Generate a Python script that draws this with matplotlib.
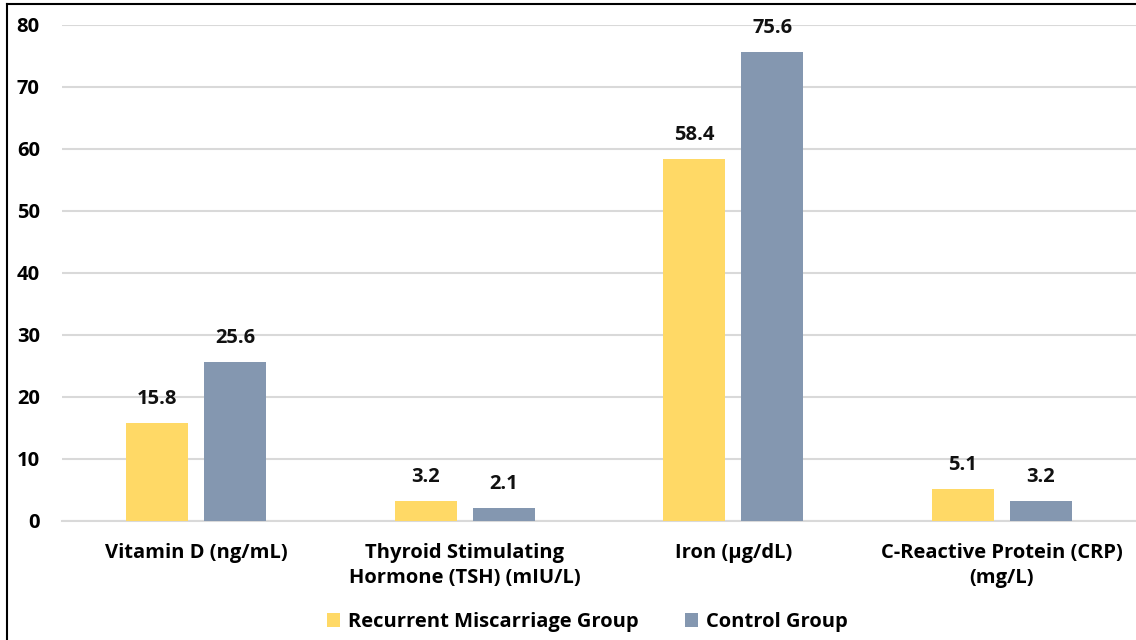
import numpy as np
import matplotlib.pyplot as plt
from matplotlib.lines import Line2D

# Data
categories = ['Vitamin D (ng/mL)', 'Thyroid Stimulating\nHormone (TSH) (mIU/L)',
              'Iron (\u00b5g/dL)', 'C-Reactive Protein (CRP)\n(mg/L)']
recurrent = [15.8, 3.2, 58.4, 5.1]
control = [25.6, 2.1, 75.6, 3.2]
series_names = ['Recurrent Miscarriage Group', 'Control Group']

plt.rcParams['font.family'] = ['Open Sans', 'DejaVu Sans']
plt.rcParams['font.weight'] = 'bold'
fs = 14.5

fig = plt.figure(figsize=(11.36, 6.4), dpi=100)
ax = fig.add_axes([62/1136, 119/640, 1 - 62/1136, (521 - 25)/640])

x_pos = np.arange(len(categories))
width = 0.23
off = 0.145

rects1 = ax.bar(x_pos - off, recurrent, width, color='#FFD966', label=series_names[0], zorder=3)
rects2 = ax.bar(x_pos + off, control, width, color='#8497B0', label=series_names[1], zorder=3)

for rects, vals in [(rects1, recurrent), (rects2, control)]:
    for r, v in zip(rects, vals):
        ax.annotate(f'{v:.1f}', (r.get_x() + r.get_width()/2, v), xytext=(0, 10),
                    textcoords='offset points', ha='center', va='bottom',
                    fontsize=fs, fontweight='bold', color='#111111')

ax.set_xlim(-0.5, 3.5)
ax.set_ylim(0, 80)
ax.set_yticks(np.arange(0, 81, 10))
ax.set_xticks(x_pos)
ax.set_xticklabels(categories, fontsize=fs, fontweight='bold', linespacing=1.35)
ax.tick_params(axis='y', length=0, pad=16, labelsize=fs)
ax.tick_params(axis='x', length=0, pad=16)
ax.yaxis.grid(True, color='#D9D9D9', lw=1.5, zorder=0)
for s in ['left', 'right', 'top']:
    ax.spines[s].set_visible(False)
ax.spines['bottom'].set_color('#D9D9D9')
ax.spines['bottom'].set_linewidth(1.5)

fig.legend(loc='center', bbox_to_anchor=(587/1136, 1 - 622/640), ncol=2, frameon=False,
           fontsize=fs, handlelength=0.65, handleheight=0.65, columnspacing=2.3, handletextpad=0.4)

# outer border (left and top only visible)
fig.add_artist(Line2D([7/1136, 7/1136], [0, 1 - 4/640], color='black', lw=1.5))
fig.add_artist(Line2D([7/1136, 1], [1 - 4/640, 1 - 4/640], color='black', lw=1.5))

plt.savefig('out.png')
